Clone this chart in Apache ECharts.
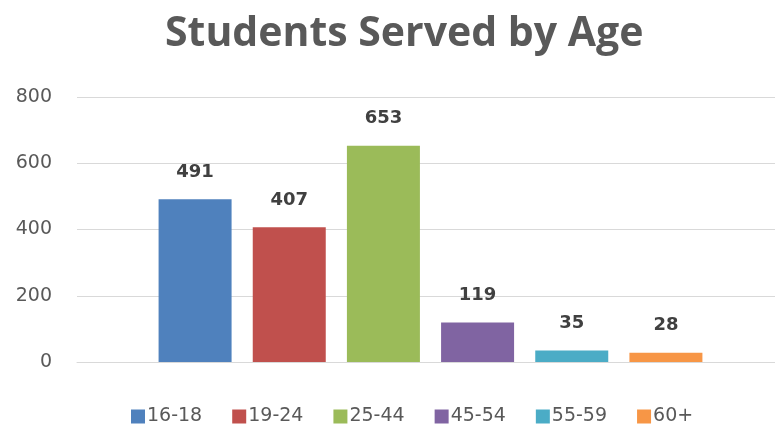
<!DOCTYPE html>
<html>
<head>
<meta charset="utf-8">
<script src="https://cdn.jsdelivr.net/npm/echarts@6/dist/echarts.min.js"></script>
<style>html,body{margin:0;padding:0;background:#fff}#c{width:775px;height:428px}</style>
</head>
<body>
<div id="c"></div>
<script>
const titleText = 'Students Served by Age';
const categories = ['16-18', '19-24', '25-44', '45-54', '55-59', '60+'];
const values = [491, 407, 653, 119, 35, 28];
const colors = ['#4F81BD', '#C0504D', '#9BBB59', '#8064A2', '#4BACC6', '#F79646'];
const yTicks = [0, 200, 400, 600, 800];

const chart = echarts.init(document.getElementById('c'));
const font = 'DejaVu Sans';
const series = categories.map((name, i) => ({
  name: name,
  type: 'bar',
  stack: 'all',
  xAxisIndex: 1,
  yAxisIndex: 1,
  barWidth: 73,
  itemStyle: { color: colors[i] },
  label: {
    show: true, position: 'top', distance: 18,
    fontFamily: font, fontWeight: 'bold', fontSize: 18, color: '#404040'
  },
  data: categories.map((c, j) => (j === i ? values[i] : '-'))
}));

chart.setOption({
  animation: false,
  color: colors,
  title: {
    text: titleText, left: 160, top: 9,
    textStyle: { fontFamily: 'Open Sans', fontWeight: 'bold', fontSize: 41, color: '#595959' }
  },
  legend: {
    left: 126, top: 402, itemWidth: 14, itemHeight: 14, itemGap: 30,
    icon: 'rect',
    textStyle: { fontFamily: font, fontSize: 19, color: '#595959', padding: [0, 0, 0, -3] },
    data: categories
  },
  grid: [
    { left: 77, right: 0, top: 97, bottom: 66 },
    { left: 148, right: 62, top: 97, bottom: 66 }
  ],
  xAxis: [
    { type: 'category', gridIndex: 0, data: categories, show: true,
      axisLine: { show: true, lineStyle: { color: '#d9d9d9', width: 1 } },
      axisTick: { show: false }, axisLabel: { show: false }, splitLine: { show: false } },
    { type: 'category', gridIndex: 1, data: categories,
      axisLine: { show: false }, axisTick: { show: false }, axisLabel: { show: false } }
  ],
  yAxis: [
    { type: 'value', gridIndex: 0, min: yTicks[0], max: yTicks[yTicks.length - 1], interval: 200,
      axisLine: { show: false }, axisTick: { show: false },
      axisLabel: { fontFamily: font, fontSize: 19, color: '#595959', margin: 25 },
      splitLine: { lineStyle: { color: '#d9d9d9', width: 1 } } },
    { type: 'value', gridIndex: 1, min: yTicks[0], max: yTicks[yTicks.length - 1], interval: 200,
      show: false, splitLine: { show: false } }
  ],
  series: series
});
</script>
</body>
</html>
